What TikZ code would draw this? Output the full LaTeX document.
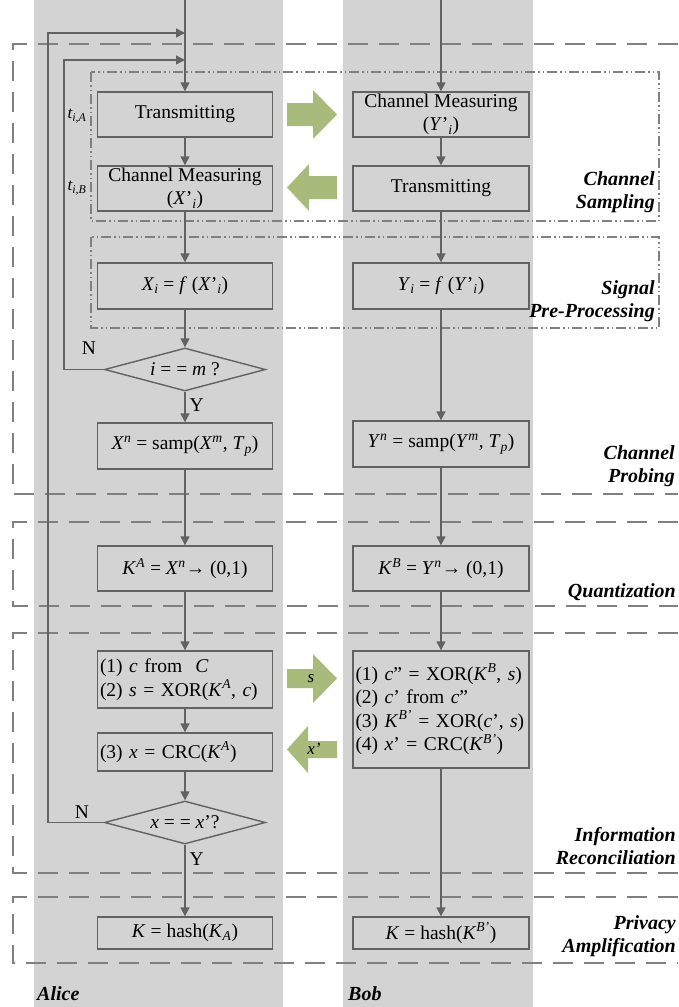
\documentclass[tikz,border=0pt]{standalone}
\usepackage{fontspec}
\setmainfont{Liberation Serif}
\usetikzlibrary{shapes.geometric,arrows.meta}
\definecolor{lane}{HTML}{D3D3D3}
\definecolor{ln}{HTML}{626262}
\definecolor{dsh}{HTML}{808080}
\definecolor{grn}{HTML}{A9BB7A}
\newcommand{\vi}[1]{\textit{#1}}
\newcommand{\sbs}[1]{\textsubscript{\textit{#1}}}
\newcommand{\sps}[1]{\textsuperscript{\textit{#1}}}
\begin{document}
\begin{tikzpicture}[x=1pt,y=-1pt,
  font=\fontsize{19.5}{23.5}\selectfont,
  box/.style={draw=ln, line width=1.4pt, fill=lane, minimum width=175pt, inner sep=0pt, align=center},
  lbox/.style={draw=ln, line width=1.4pt, fill=lane, text width=170pt, inner xsep=2.5pt, inner ysep=0pt, align=left},
  dia/.style={diamond, draw=ln, line width=1.4pt, fill=lane, minimum width=161pt, minimum height=43pt, aspect=3.7, inner sep=0pt},
  flow/.style={draw=ln, line width=1.4pt, -{Triangle[length=9pt,width=9pt]}},
  phase/.style={draw=dsh, line width=1.6pt, dash pattern=on 20pt off 11pt},
  subphase/.style={draw=dsh, line width=1.2pt, dash pattern=on 10pt off 3pt on 1.5pt off 3pt on 1.5pt off 3pt},
  lbl/.style={font=\fontsize{20}{23}\selectfont\bfseries\itshape, align=right, anchor=east, inner sep=0pt},
  who/.style={font=\fontsize{20}{23}\selectfont\bfseries\itshape, anchor=base west, inner sep=0pt},
  bigarrow/.style={fill=grn, draw=none},
  small/.style={font=\fontsize{17}{20}\selectfont\itshape, inner sep=0pt},
]
\useasboundingbox (0,0) rectangle (678,1007);
% lanes
\fill[lane] (34,0) rectangle (283,1007);
\fill[lane] (343,0) rectangle (533,1007);
% phase frames
\path[phase] (678,44) -| (13,494) -- (678,494);
\path[phase] (678,522) -| (13,606) -- (678,606);
\path[phase] (678,633) -| (13,873) -- (678,873);
\path[phase] (678,897) -| (13,963) -- (678,963);
\path[subphase] (91,72) rectangle (659,221);
\path[subphase] (91,237) rectangle (659,328);
% phase labels
\node[lbl] (lsamp) at (655,192) {Channel\\Sampling};
\node[lbl] (lpre) at (655,301) {Signal\\Pre-Processing};
\node[lbl] (lprob) at (675,466) {Channel\\Probing};
\node[lbl] (lquant) at (676,592) {Quantization};
\node[lbl] (lrec) at (676,846) {Information\\Reconciliation};
\node[lbl] (lpriv) at (676,936) {Privacy\\Amplification};
% Alice nodes
\coordinate (atop) at (185,0);
\node[box, minimum height=45pt] (aT) at (185,114.5) {Transmitting};
\node[box, minimum height=45pt] (aM) at (185,188.5) {Channel Measuring\\(\vi{X}’\sbs{i})};
\node[box, minimum height=46pt] (aF) at (185,286) {\vi{X}\sbs{i} = \vi{f} (\vi{X}’\sbs{i})};
\node[dia] (aD) at (185,369.5) {\vi{i} = = \vi{m} ?};
\node[box, minimum height=46pt] (aS) at (185,446) {\vi{X}\sps{n} = samp(\vi{X}\sps{m}, \vi{T}\sbs{p})};
\node[box, minimum height=45pt] (aK) at (185,568.5) {\vi{K}\sps{A} = \vi{X}\sps{n}→ (0,1)};
\node[lbox, minimum height=57pt] (aC) at (185,679.5) {(1) \vi{c} from \ \vi{C}\\(2) \vi{s} = XOR(\vi{K}\sps{A}, \vi{c})};
\node[lbox, minimum height=38pt] (aX) at (185,752) {(3) \vi{x} = CRC(\vi{K}\sps{A})};
\node[dia] (aD2) at (185,822.5) {\vi{x} = = \vi{x}’?};
\node[box, minimum height=32pt] (aH) at (185,933) {\vi{K} = hash(\vi{K}\sbs{A})};
% Bob nodes
\coordinate (btop) at (441,0);
\node[box, minimum height=45pt, minimum width=176pt] (bM) at (441,114.5) {Channel Measuring\\(\vi{Y}’\sbs{i})};
\node[box, minimum height=45pt, minimum width=176pt] (bT) at (441,188.5) {Transmitting};
\node[box, minimum height=46pt, minimum width=176pt] (bF) at (441,286) {\vi{Y}\sbs{i} = \vi{f} (\vi{Y}’\sbs{i})};
\node[box, minimum height=46pt, minimum width=176pt] (bS) at (441,444) {\vi{Y}\sps{n} = samp(\vi{Y}\sps{m}, \vi{T}\sbs{p})};
\node[box, minimum height=45pt, minimum width=176pt] (bK) at (441,568.5) {\vi{K}\sps{B} = \vi{Y}\sps{n}→ (0,1)};
\node[lbox, minimum height=117pt, text width=171pt] (bC) at (441,709.5) {(1) \vi{c}" = XOR(\vi{K}\sps{B}, \vi{s})\\(2) \vi{c}’ from \vi{c}"\\(3) \vi{K}\sps{B’} = XOR(\vi{c}’, \vi{s})\\(4) \vi{x}’ = CRC(\vi{K}\sps{B’})};
\node[box, minimum height=32pt, minimum width=176pt] (bH) at (441,933) {\vi{K} = hash(\vi{K}\sps{B’})};
% Alice flow
\draw[flow] (atop) -- (aT);
\draw[flow] (aT) -- (aM);
\draw[flow] (aM) -- (aF);
\draw[flow] (aF) -- (aD);
\draw[flow] (aD) -- node[right, inner sep=4pt, pos=0.45] (ly1) {Y} (aS);
\draw[flow] (aS) -- (aK);
\draw[flow] (aK) -- (aC);
\draw[flow] (aC) -- (aX);
\draw[flow] (aX) -- (aD2);
\draw[flow] (aD2) -- node[right, inner sep=4pt, pos=0.2] (ly2) {Y} (aH);
% loops
\coordinate (l1a) at (64,369.5);
\coordinate (l1b) at (64,60);
\coordinate (l1c) at (185,60);
\draw[flow] (aD.west) -- (l1a) -- (l1b) -- (l1c);
\coordinate (l2a) at (48,822.5);
\coordinate (l2b) at (48,33);
\coordinate (l2c) at (185,33);
\draw[flow] (aD2.west) -- (l2a) -- (l2b) -- (l2c);
\node (ln1) at (89,348) {N};
\node (ln2) at (82,812) {N};
% Bob flow
\draw[flow] (btop) -- (bM);
\draw[flow] (bM) -- (bT);
\draw[flow] (bT) -- (bF);
\draw[flow] (bF) -- (bS);
\draw[flow] (bS) -- (bK);
\draw[flow] (bK) -- (bC);
\draw[flow] (bC) -- (bH);
% time labels
\node[small] (tA) at (77,116) {\vi{t}\sbs{i,A}};
\node[small] (tB) at (77,188) {\vi{t}\sbs{i,B}};
% green exchange arrows
\fill[bigarrow] (287,103) -- (313,103) -- (313,90) -- (337,114.5) -- (313,139) -- (313,126) -- (287,126) -- cycle;
\fill[bigarrow] (337,176) -- (309,176) -- (309,164) -- (287,187.5) -- (309,211) -- (309,199) -- (337,199) -- cycle;
\fill[bigarrow] (287,669) -- (313,669) -- (313,654) -- (337,678.5) -- (313,703) -- (313,688) -- (287,688) -- cycle;
\fill[bigarrow] (337,741) -- (308,741) -- (308,726) -- (287,749.5) -- (308,773) -- (308,758) -- (337,758) -- cycle;
\node[small] (ts) at (311,679) {s};
\node[small] (tx) at (314,749) {x’};
% lane names
\node[who] (alice) at (37,1000) {Alice};
\node[who] (bob) at (348,1000) {Bob};
\end{tikzpicture}
\end{document}
